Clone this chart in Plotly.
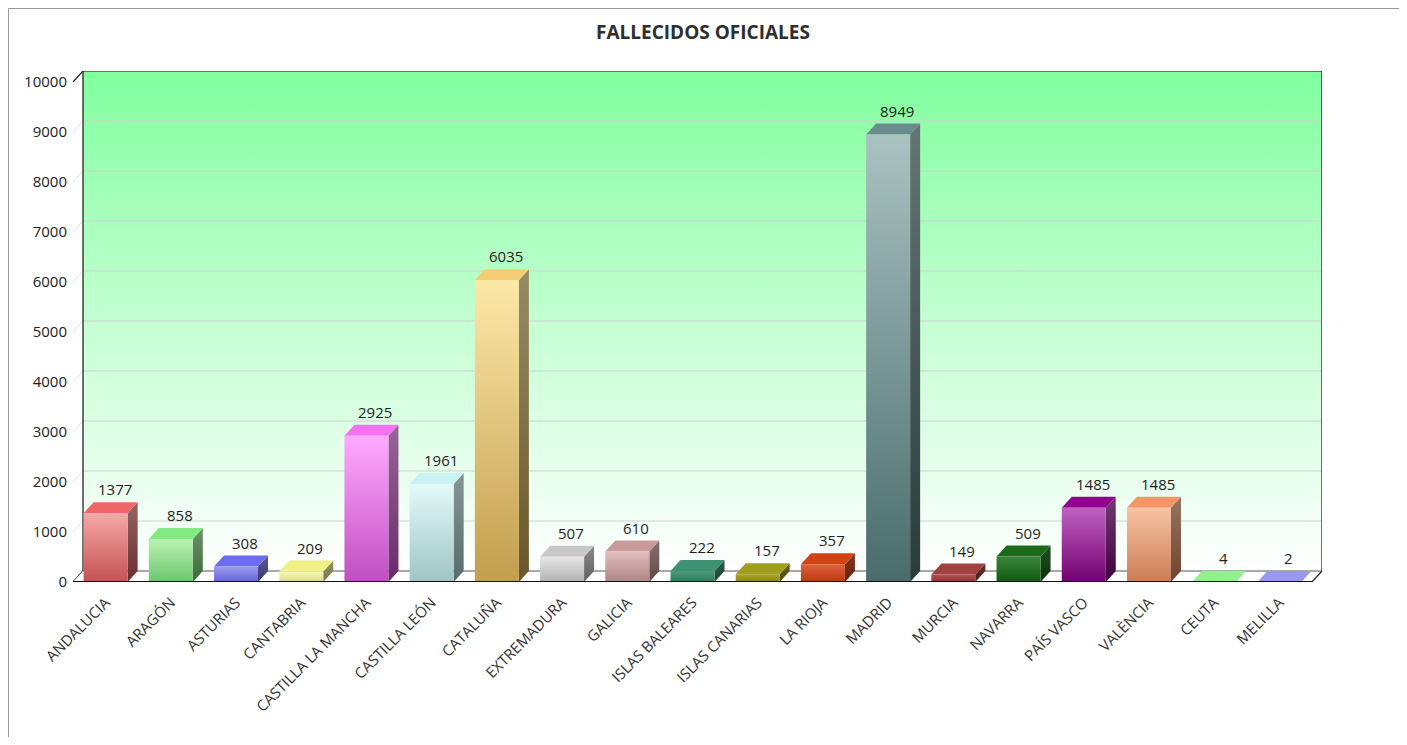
import plotly.graph_objects as go

# ---------------- data ----------------
CATEGORIES = ["ANDALUCIA", "ARAGÓN", "ASTURIAS", "CANTABRIA", "CASTILLA LA MANCHA",
              "CASTILLA LEÓN", "CATALUÑA", "EXTREMADURA", "GALICIA", "ISLAS BALEARES",
              "ISLAS CANARIAS", "LA RIOJA", "MADRID", "MURCIA", "NAVARRA", "PAÍS VASCO",
              "VALÈNCIA", "CEUTA", "MELILLA"]
FALLECIDOS = [1377, 858, 308, 209, 2925, 1961, 6035, 507, 610, 222, 157, 357, 8949,
              149, 509, 1485, 1485, 4, 2]
Y_TICKS = [0, 1000, 2000, 3000, 4000, 5000, 6000, 7000, 8000, 9000, 10000]
Y_TICK_LABELS = ["0", "1000", "2000", "3000", "4000", "5000", "6000", "7000", "8000",
                 "9000", "10000"]
TITLE = "FALLECIDOS OFICIALES"

# ---------------- styles ----------------
FRONT_TOP = ["#f6a8a8", "#baf2b4", "#9a9af2", "#f8f8b4", "#ffaaff", "#e4fafa", "#fde8a8",
             "#e6e6e6", "#e2bebe", "#4e9c7c", "#aaa42a", "#e0603a", "#aac2c2", "#b05252",
             "#3c843c", "#c062c0", "#f8c4a4", "#98f498", "#a0a0f4"]
FRONT_BOTTOM = ["#c45252", "#6cc66c", "#6464d6", "#d8d88a", "#c04ec0", "#9ec4c4", "#c29e4e",
                "#b2b2b2", "#ae8484", "#2e7a5a", "#8a8410", "#b83a14", "#4a6c6c", "#8a3434",
                "#105a10", "#720072", "#cc7c56", "#80e880", "#8888ec"]
TOP_FACE = ["#f06666", "#82ea82", "#6c6cf0", "#f0f084", "#f272f2", "#c8f2f4", "#f4cc72",
            "#c8c8c8", "#c89a9a", "#3c9272", "#a09e1e", "#d04412", "#6a8c8c", "#a04242",
            "#1a6a1a", "#920092", "#f2966a", "#90f090", "#9898f0"]
FONT = "Open Sans, Liberation Sans, DejaVu Sans, sans-serif"

# ---------------- geometry (page pixels; page body has an 8px margin) ----------------
OFF = 8
W, H = 1407 - OFF, 745 - 2 * OFF
ML = 73 - OFF
MT = 71 - OFF
CAT_PX = 65.2
DEPTH_X_PX, DEPTH_Y_PX = 10, 11
Y_PX = 0.05
N = len(CATEGORIES)
DXU = DEPTH_X_PX / CAT_PX
DYU = DEPTH_Y_PX / Y_PX
YTOP = Y_TICKS[-1]
XR = [-0.5, N - 0.5 + DXU]
YR = [0, YTOP + DYU]
PLOT_W = (XR[1] - XR[0]) * CAT_PX
PLOT_H = YR[1] * Y_PX
MR = W - ML - PLOT_W
MB = H - MT - PLOT_H
HW = 22 / CAT_PX


def darken(hexcol, f):
    h = hexcol.lstrip("#")
    r, g, b = (int(h[i:i + 2], 16) for i in (0, 2, 4))
    return "rgb(%d,%d,%d)" % (r * f, g * f, b * f)


fig = go.Figure()


def poly(xs, ys, fill=None, grad=None, line=None):
    kw = dict(x=xs + [xs[0]], y=ys + [ys[0]], fill="toself", hoverinfo="skip",
              showlegend=False)
    if grad is not None:
        kw["fillgradient"] = dict(type="vertical", colorscale=grad)
        kw["fillcolor"] = grad[-1][1]
    else:
        kw["fillcolor"] = fill
    if line:
        kw["mode"] = "lines"
        kw["line"] = line
    else:
        kw["mode"] = "none"
    fig.add_trace(go.Scatter(**kw))


def lines(segs, color, width):
    xs, ys = [], []
    for (x0, y0, x1, y1) in segs:
        xs += [x0, x1, None]
        ys += [y0, y1, None]
    fig.add_trace(go.Scatter(x=xs, y=ys, mode="lines", line=dict(color=color, width=width),
                             hoverinfo="skip", showlegend=False))


# back wall with gradient
bx0 = -0.5 + DXU
poly([bx0, XR[1], XR[1], bx0], [DYU, DYU, YR[1], YR[1]],
     grad=[[0, "#ffffff"], [0.5, "#c4ffd2"], [1, "#80ff9e"]])
# gridlines on back wall + left wall slants
lines([(bx0, v + DYU, XR[1], v + DYU) for v in Y_TICKS[1:-1]], "#cfcfcf", 1)
lines([(-0.5, v, bx0, v + DYU) for v in Y_TICKS[1:-1]], "#dedede", 1)
# frame of back wall
lines([(bx0, DYU, bx0, YR[1]), (bx0, YR[1], XR[1], YR[1]), (XR[1], YR[1], XR[1], DYU)],
      "#111111", 1.2)
# left wall edges
lines([(-0.5, YTOP, bx0, YR[1]), (-0.5, 0, bx0, DYU)], "#222222", 1.2)
# floor
poly([-0.5, N - 0.5, XR[1], bx0], [0, 0, DYU, DYU], fill="#ffffff")
lines([(bx0, DYU, XR[1], DYU)], "#555555", 1.2)
lines([(N - 0.5, 0, XR[1], DYU)], "#222222", 1.2)

# bars (3D): side face, top face, front face
for i, v in enumerate(FALLECIDOS):
    xl, xr_ = i - HW, i + HW
    poly([xr_, xr_ + DXU, xr_ + DXU, xr_], [0, DYU, v + DYU, v],
         grad=[[0, darken(FRONT_BOTTOM[i], 0.55)], [1, darken(FRONT_TOP[i], 0.6)]])
    poly([xl, xr_, xr_ + DXU, xl + DXU], [v, v, v + DYU, v + DYU], fill=TOP_FACE[i])
    poly([xl, xr_, xr_, xl], [0, 0, v, v],
         grad=[[0, FRONT_BOTTOM[i]], [1, FRONT_TOP[i]]])

# front floor edge
lines([(-0.5, 0, N - 0.5, 0)], "#111111", 2)

# value labels
for i, v in enumerate(FALLECIDOS):
    fig.add_annotation(x=i + DXU * 0.9, y=v + DYU, text=str(v), showarrow=False,
                       yanchor="bottom", yshift=1,
                       font=dict(family=FONT, size=15, color="#1e1e1e"))


# outer border (page pixel coordinates -> paper)
def px_x(p):
    return (p - OFF - ML) / PLOT_W


def px_y(p):
    return (MT + PLOT_H - (p - OFF)) / PLOT_H


fig.add_shape(type="rect", xref="paper", yref="paper", x0=px_x(8.5), x1=px_x(1402),
              y0=px_y(790), y1=px_y(8.5), line=dict(color="#9a9a9a", width=1),
              fillcolor="rgba(0,0,0,0)", layer="below")

fig.update_layout(
    width=W, height=H,
    margin=dict(l=ML, r=MR, t=MT, b=MB, pad=0),
    paper_bgcolor="#ffffff", plot_bgcolor="rgba(0,0,0,0)",
    title=dict(text="<b>" + TITLE + "</b>", x=(703 - OFF) / W, xref="container",
               xanchor="center", y=1 - (32 - OFF) / H, yref="container", yanchor="middle",
               font=dict(family=FONT, size=19, color="#2e2e2e")),
    xaxis=dict(range=XR, tickvals=list(range(N)), ticktext=CATEGORIES, tickangle=-45,
               showgrid=False, zeroline=False, showline=False, ticks="",
               ticklabelstandoff=8,
               tickfont=dict(family=FONT, size=15, color="#333333"), fixedrange=True),
    yaxis=dict(range=YR, tickvals=Y_TICKS, ticktext=Y_TICK_LABELS, showgrid=False,
               zeroline=False, showline=False, ticks="", ticklabelstandoff=5,
               tickfont=dict(family=FONT, size=15, color="#222222"), fixedrange=True),
    showlegend=False,
)

fig.write_html("out.html")
